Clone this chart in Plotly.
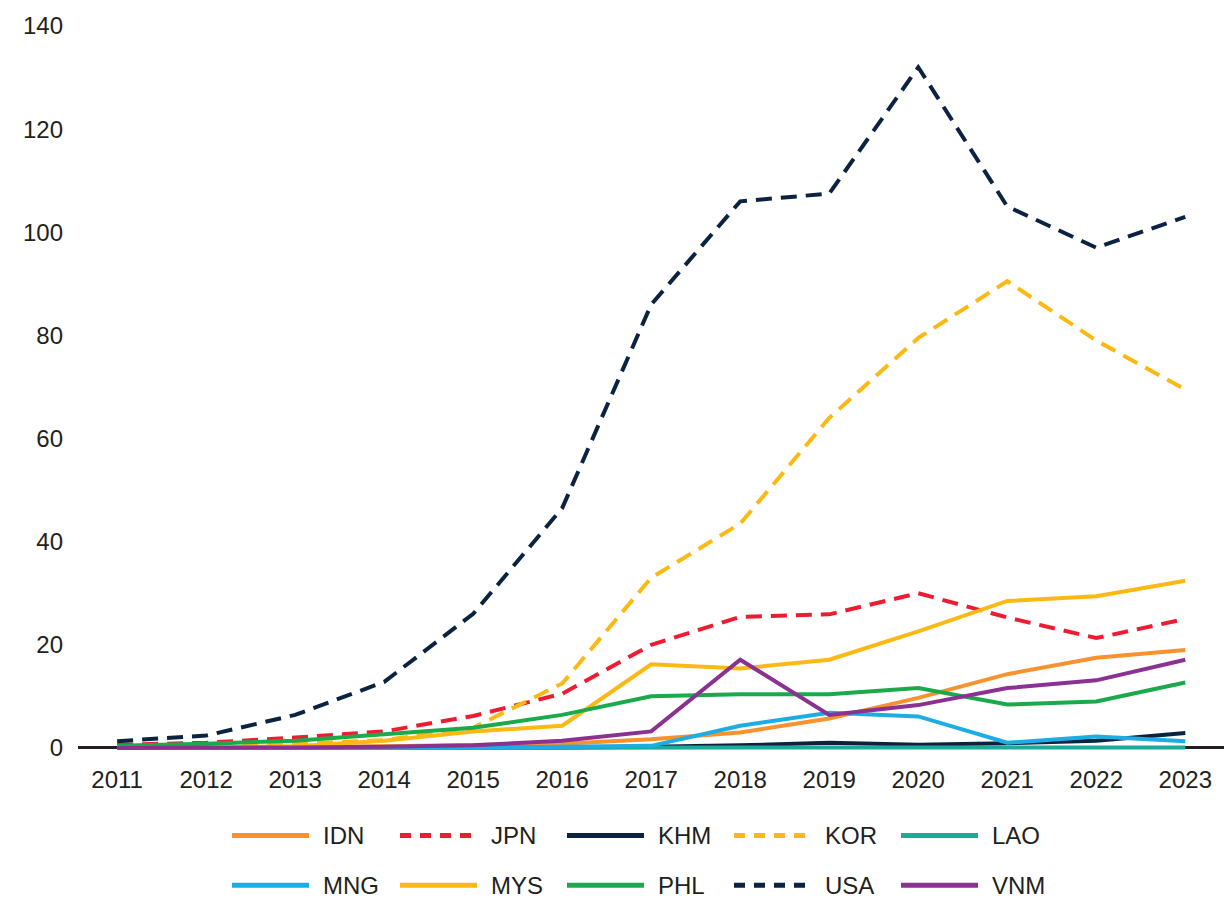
import plotly.graph_objects as go

years = list(range(2011, 2024))

IDN = [0.1, 0.1, 0.2, 0.3, 0.5, 0.8, 1.7, 3.0, 5.7, 9.7, 14.3, 17.5, 19.0]
JPN = [0.6, 1.0, 2.0, 3.2, 6.2, 10.5, 20.0, 25.4, 25.9, 30.0, 25.3, 21.3, 25.0]
KHM = [0.0, 0.0, 0.0, 0.0, 0.1, 0.1, 0.2, 0.5, 1.0, 0.6, 0.9, 1.4, 2.9]
KOR = [0.3, 0.5, 0.8, 1.5, 3.9, 12.5, 33.0, 43.5, 64.0, 79.5, 90.5, 79.0, 69.5]
LAO = [0.0, 0.0, 0.0, 0.0, 0.0, 0.0, 0.0, 0.0, 0.1, 0.1, 0.1, 0.1, 0.1]
MNG = [0.0, 0.0, 0.0, 0.0, 0.1, 0.2, 0.4, 4.3, 6.8, 6.1, 1.0, 2.2, 1.3]
MYS = [0.0, 0.1, 0.3, 1.4, 3.2, 4.3, 16.2, 15.4, 17.1, 22.6, 28.5, 29.4, 32.4]
PHL = [0.4, 0.8, 1.4, 2.6, 3.9, 6.4, 10.0, 10.4, 10.4, 11.6, 8.4, 9.0, 12.7]
USA = [1.3, 2.4, 6.4, 12.8, 26.0, 46.5, 86.0, 106.0, 107.5, 132.0, 105.0, 97.0, 103.0]
VNM = [0.0, 0.0, 0.1, 0.2, 0.5, 1.4, 3.2, 17.1, 6.4, 8.3, 11.6, 13.1, 17.1]

series_names = ["IDN", "JPN", "KHM", "KOR", "LAO", "MNG", "MYS", "PHL", "USA", "VNM"]
series_values = [IDN, JPN, KHM, KOR, LAO, MNG, MYS, PHL, USA, VNM]
colors = ["#F7922F", "#ED1C33", "#0B2341", "#FDB913", "#1AAB99",
          "#1BADE3", "#FDB913", "#1BAA4B", "#0B2341", "#8B3192"]
dashes = ["solid", "16px,9px", "solid", "16px,9px", "solid",
          "solid", "solid", "solid", "16px,9px", "solid"]

y_ticks = [0, 20, 40, 60, 80, 100, 120, 140]

font_main = "Liberation Sans, Arial, sans-serif"
txt_color = "#231F20"

fig = go.Figure()
for name, vals, c, d in zip(series_names, series_values, colors, dashes):
    fig.add_trace(go.Scatter(x=years, y=vals, name=name, mode="lines",
                             line=dict(color=c, width=4, dash=d),
                             showlegend=False))

# page has an 8px body margin: lay out in figure coordinates
OFF = 8
W, H = 1224, 894
L, R, T, B = 70, 4, 14, 151
pw, ph = W - L - R, H - T - B

# custom legend (line sample + label) below the plot, positions in page pixels
col_x = [232, 400, 567, 734, 901]
row_y = [836, 886]
shapes = []
annotations = []
for i, (name, c, d) in enumerate(zip(series_names, colors, dashes)):
    r, k = divmod(i, 5)
    px0 = col_x[k] - OFF
    py = row_y[r] - OFF
    x0 = (px0 - L) / pw
    x1 = (px0 + 77 - L) / pw
    yy = (H - B - py) / ph
    dd = "11px,9px" if d != "solid" else "solid"
    shapes.append(dict(type="line", xref="paper", yref="paper", x0=x0, x1=x1,
                       y0=yy, y1=yy, line=dict(color=c, width=5, dash=dd)))
    annotations.append(dict(xref="paper", yref="paper", x=(px0 + 89 - L) / pw,
                            y=yy, text=name, showarrow=False, xanchor="left",
                            yanchor="middle",
                            font=dict(family=font_main, size=24, color=txt_color)))

fig.update_layout(
    width=W, height=H,
    margin=dict(l=L, r=R, t=T, b=B),
    paper_bgcolor="white", plot_bgcolor="white",
    showlegend=False,
    shapes=shapes, annotations=annotations,
    xaxis=dict(range=[2010.56, 2023.48], tickvals=years, ticktext=[str(y) for y in years],
               showgrid=False, zeroline=False, showline=False, ticks="",
               ticklabelstandoff=12,
               tickfont=dict(family=font_main, size=24, color=txt_color)),
    yaxis=dict(range=[-0.6, 140], tickvals=y_ticks, showgrid=False,
               zeroline=True, zerolinecolor=txt_color, zerolinewidth=3,
               showline=False, ticks="", ticklabelstandoff=14,
               tickfont=dict(family=font_main, size=24, color=txt_color)),
)

fig.write_html("out.html")
